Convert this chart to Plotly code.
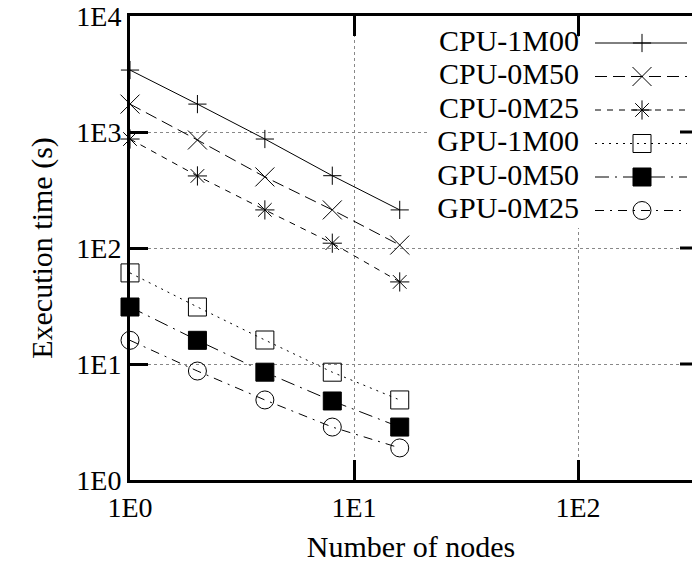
import plotly.graph_objects as go

nodes = [1, 2, 4, 8, 16]
series_names = ["CPU-1M00", "CPU-0M50", "CPU-0M25", "GPU-1M00", "GPU-0M50", "GPU-0M25"]
cpu_1m00 = [3420, 1740, 870, 420, 213]
cpu_0m50 = [1740, 853, 410, 213, 106]
cpu_0m25 = [870, 418, 213, 110, 51]
gpu_1m00 = [61, 31, 16.1, 8.5, 4.9]
gpu_0m50 = [31, 16, 8.5, 4.8, 2.86]
gpu_0m25 = [16, 8.7, 4.9, 2.86, 1.89]
series_values = [cpu_1m00, cpu_0m50, cpu_0m25, gpu_1m00, gpu_0m50, gpu_0m25]

x_tickvals = [1, 10, 100]
x_ticktext = ["1E0", "1E1", "1E2"]
y_tickvals = [1, 10, 100, 1000, 10000]
y_ticktext = ["1E0", "1E1", "1E2", "1E3", "1E4"]

styles = [
    dict(dash="solid", symbol="cross-thin-open", size=13),
    dict(dash="12px,6px", symbol="x-thin-open", size=19),
    dict(dash="6px,6px", symbol="asterisk-open", size=16),
    dict(dash="2px,5px", symbol="square-open", size=18),
    dict(dash="14px,6px,2px,6px", symbol="square", size=18),
    dict(dash="9px,6px,2px,6px", symbol="circle-open", size=18),
]

FONT = "Liberation Serif"
W, H = 692, 583
ML, MT, MB = 100, 16, 103          # outer margins of the drawing layer
AX_LEFT = 130                      # pixel position of the x = 1 axis
X_DEC, Y_DEC = 224, 116            # pixels per decade
PW = W - ML
X_BOTTOM = H - MB


def dx(px):
    """pixel column -> value on the log x scale"""
    return 10 ** ((px - AX_LEFT) / X_DEC)


def dy(py):
    """pixel row -> value on the log y scale"""
    return 10 ** ((X_BOTTOM - py) / Y_DEC)


common = dict(xaxis="x2", yaxis="y2", showlegend=False, hoverinfo="skip")
fig = go.Figure()

# empty trace so the framed main axes (x, y) are drawn
fig.add_trace(go.Scatter(x=[None], y=[None], mode="lines", showlegend=False,
                         hoverinfo="skip"))

# white key background hiding the grid behind the key
fig.add_trace(go.Scatter(
    x=[dx(430), dx(692), dx(692), dx(430), dx(430)],
    y=[dy(228), dy(228), dy(38), dy(38), dy(228)],
    mode="lines", fill="toself", fillcolor="white",
    line=dict(color="white", width=0), **common))

# data series
for name, vals, st in zip(series_names, series_values, styles):
    fig.add_trace(go.Scatter(
        x=nodes, y=vals, name=name, mode="lines+markers",
        line=dict(color="black", width=1, dash=st["dash"]),
        marker=dict(symbol=st["symbol"], size=st["size"], color="black",
                    line=dict(color="black", width=1)),
        xaxis="x2", yaxis="y2", showlegend=False))

# key (gnuplot style: text, then line sample with marker)
row_y = [43, 76.5, 110, 143.5, 177, 210.5]
for i, (name, st) in enumerate(zip(series_names, styles)):
    yv = dy(row_y[i])
    fig.add_trace(go.Scatter(
        x=[dx(595), dx(687)], y=[yv, yv], mode="lines",
        line=dict(color="black", width=1, dash=st["dash"]), **common))
    fig.add_trace(go.Scatter(
        x=[dx(642)], y=[yv], mode="markers",
        marker=dict(symbol=st["symbol"], size=st["size"], color="black",
                    line=dict(color="black", width=1)), **common))
    fig.add_trace(go.Scatter(
        x=[dx(579)], y=[yv], mode="text", text=[name], textposition="middle left",
        textfont=dict(family=FONT, size=30, color="black"), **common))

# right-hand tick marks (frame is cut off at the right edge)
for v in y_tickvals[1:-1]:
    fig.add_trace(go.Scatter(
        x=[dx(680), dx(692)], y=[v, v], mode="lines",
        line=dict(color="black", width=3), **common))

fig.update_layout(
    width=W, height=H,
    margin=dict(l=ML, r=0, t=MT, b=MB),
    paper_bgcolor="white", plot_bgcolor="rgba(0,0,0,0)",
    font=dict(family=FONT, color="black", size=25),
    xaxis=dict(type="log", domain=[(AX_LEFT - ML) / PW, 1], anchor="y",
               range=[0, (W - AX_LEFT) / X_DEC],
               tickvals=x_tickvals, ticktext=x_ticktext, tickfont=dict(size=28),
               showline=True, linecolor="black", linewidth=3, mirror="ticks",
               ticks="inside", ticklen=20, tickwidth=3, tickcolor="black",
               showgrid=True, gridcolor="#888888", griddash="dot",
               title_text="Number of nodes"),
    yaxis=dict(type="log", domain=[0, 1], anchor="x", range=[0, 4],
               tickvals=y_tickvals, ticktext=y_ticktext, tickfont=dict(size=28),
               showline=True, linecolor="black", linewidth=3,
               ticks="inside", ticklen=18, tickwidth=3, tickcolor="black",
               showgrid=True, gridcolor="#888888", griddash="dot",
               title_text="Execution time (s)"),
    xaxis2=dict(type="log", domain=[0, 1], anchor="y2",
                range=[(ML - AX_LEFT) / X_DEC, (W - AX_LEFT) / X_DEC],
                showgrid=False, showline=False, showticklabels=False, ticks="",
                zeroline=False),
    yaxis2=dict(type="log", domain=[0, 1], anchor="x2", range=[0, 4],
                showgrid=False, showline=False, showticklabels=False, ticks="",
                zeroline=False),
)

fig.write_html("out.html")
